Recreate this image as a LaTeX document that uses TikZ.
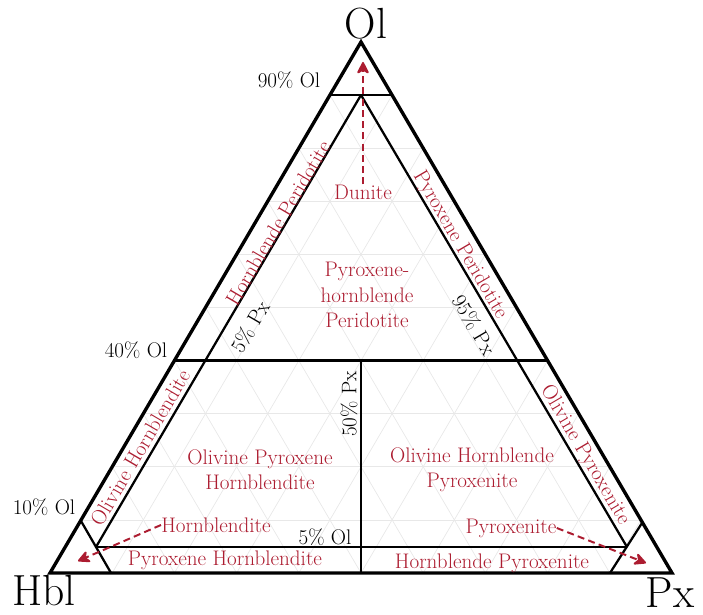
\documentclass[tikz,border=0pt]{standalone}
\usepackage{tikz}
\usetikzlibrary{calc,arrows.meta}
\definecolor{rockred}{RGB}{172,28,48}

\begin{document}
\begin{tikzpicture}[x=0.025cm,y=-0.025cm,
  rock/.style={text=rockred, font=\fontsize{15}{18}\selectfont, align=center, inner sep=0pt},
  pct/.style={font=\fontsize{15}{18}\selectfont, inner sep=0pt},
  apex/.style={font=\fontsize{31}{33}\selectfont, inner sep=0pt},
  edge/.style={line width=2.4pt, line join=miter},
  bound/.style={line width=1.6pt},
  faint/.style={gray!18, line width=0.5pt},
  arr/.style={rockred, line width=1.4pt, dash pattern=on 5pt off 3pt,
    -{Stealth[round, length=10pt, width=10pt, inset=3pt]}}
]
\useasboundingbox (0,0) rectangle (703,615);

% corners of the triangle
\coordinate (cOl)  at (361,42);
\coordinate (cHbl) at (50,573);
\coordinate (cPx)  at (672,573);

% faint grid
\foreach \f in {0.1,0.2,...,0.91}{
  \draw[faint] ($(cHbl)!\f!(cOl)$) -- ($(cPx)!\f!(cOl)$);
  \draw[faint] ($(cHbl)!\f!(cPx)$) -- ($(cOl)!\f!(cPx)$);
  \draw[faint] ($(cPx)!\f!(cHbl)$) -- ($(cOl)!\f!(cHbl)$);
}

% field boundaries
\coordinate (top) at (361,95);
\coordinate (j1)  at (96,547);
\coordinate (j2)  at (627,547);
\draw[bound] ($(cHbl)!0.9!(cOl)$) -- ($(cPx)!0.9!(cOl)$);
\draw[bound] ($(cHbl)!0.4!(cOl)$) -- ($(cPx)!0.4!(cOl)$);
\draw[bound] (j1) -- (j2);
\draw[bound] (top) -- (j1);
\draw[bound] (top) -- (j2);
\draw[bound] (361,360) -- (361,573);
\draw[bound] (81,521) -- (111,573);
\draw[bound] (642,523) -- (610,573);
\draw[edge] (cOl) -- (cHbl) -- (cPx) -- cycle;

% end members
\node[apex] (Ol)  at (366,24)  {Ol};
\node[apex] (Hbl) at (44,591)  {Hbl};
\node[apex] (Px)  at (670,593) {Px};

% percentages
\node[pct] (p90)   at (289,80)  {90\% Ol};
\node[pct] (p40)   at (136,350) {40\% Ol};
\node[pct] (p10)   at (44,507)  {10\% Ol};
\node[pct] (p5ol)  at (325,537) {5\% Ol};
\node[pct, rotate=90]    (p50px) at (349,404) {50\% Px};
\node[pct, rotate=59.6]  (p5px)  at (250,327) {5\% Px};
\node[pct, rotate=-59.6] (p95px) at (474,325) {95\% Px};

% rock names
\node[rock] (dun)    at (363,192) {Dunite};
\node[rock] (phper)  at (367,295) {Pyroxene-\\hornblende\\Peridotite};
\node[rock, rotate=59.6]  (hblper) at (278,223) {Hornblende Peridotite};
\node[rock, rotate=-59.6] (pxper)  at (460,245) {Pyroxene Peridotite};
\node[rock, rotate=59.6]  (olhbl)  at (140,448) {Olivine Hornblendite};
\node[rock, rotate=-59.6] (olpx)   at (585,455) {Olivine Pyroxenite};
\node[rock] (ophbl)  at (260,470) {Olivine Pyroxene\\Hornblendite};
\node[rock] (ohpx)   at (472,470) {Olivine Hornblende\\Pyroxenite};
\node[rock] (hbld)   at (216,525) {Hornblendite};
\node[rock] (pxhbld) at (225,560) {Pyroxene Hornblendite};
\node[rock] (pxnt)   at (511,528) {Pyroxenite};
\node[rock] (hblpx)  at (492,563) {Hornblende Pyroxenite};

% pointers into the corner fields
\coordinate (tipOl)  at (363,62);
\coordinate (tipHbl) at (78,561);
\coordinate (tipPx)  at (646,563);
\draw[arr] (dun.north) -- (tipOl);
\draw[arr] (hbld.west) -- (tipHbl);
\draw[arr] (pxnt.east) -- (tipPx);
\end{tikzpicture}
\end{document}
